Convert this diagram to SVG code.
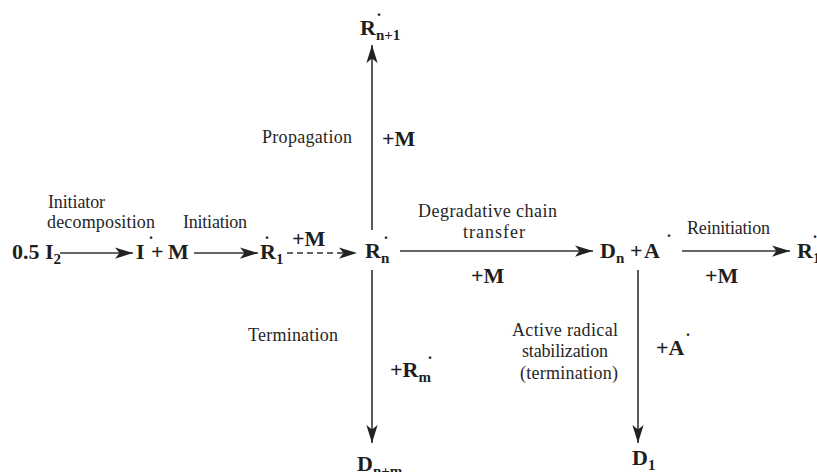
<svg xmlns="http://www.w3.org/2000/svg" width="817" height="472" viewBox="0 0 817 472">
<style>
  .sym { font-family: "Liberation Serif", "Times New Roman", Times, serif; font-size: 22px; font-weight: bold; fill: #1e1e1e; }
  .sub { font-size: 15px; }
  .dot { font-size: 16px; }
  .lbl { font-family: "Liberation Serif", "Times New Roman", Times, serif; font-size: 18px; fill: #262626; }
  .ln { stroke: #333; stroke-width: 1.6; fill: none; }
  .dash { stroke-dasharray: 6 4; }
</style>
<defs>
  <marker id="ah" markerUnits="userSpaceOnUse" markerWidth="18" markerHeight="12" viewBox="0 0 16 10" refX="16" refY="5" orient="auto">
    <path d="M0,0 L16,5 L0,10 L4,5 z" fill="#222"/>
  </marker>
</defs>
<rect width="817" height="472" fill="#fff"/>

<g id="connectors">
  <line class="ln" x1="60" y1="253" x2="133" y2="253" marker-end="url(#ah)"/>
  <line class="ln" x1="194" y1="253" x2="258" y2="253" marker-end="url(#ah)"/>
  <line class="ln dash" x1="287" y1="253" x2="357" y2="253" marker-end="url(#ah)"/>
  <line class="ln" x1="372" y1="230" x2="372" y2="45" marker-end="url(#ah)"/>
  <line class="ln" x1="372" y1="270" x2="372" y2="443" marker-end="url(#ah)"/>
  <line class="ln" x1="400" y1="251" x2="593" y2="251" marker-end="url(#ah)"/>
  <line class="ln" x1="638" y1="270" x2="638" y2="443" marker-end="url(#ah)"/>
  <line class="ln" x1="682" y1="251" x2="790" y2="251" marker-end="url(#ah)"/>
</g>

<g id="I2">
  <text class="sym" x="12" y="259">0.5 I<tspan class="sub" dy="5">2</tspan></text>
</g>
<g id="IM">
  <text class="sym" x="136" y="259">I<tspan class="dot" x="149" y="239">.</tspan><tspan x="151" y="259">+</tspan><tspan x="168" y="259">M</tspan></text>
</g>
<g id="R1">
  <text class="sym" x="260" y="259">R<tspan class="sub" dy="5">1</tspan><tspan class="dot" x="265" y="239">.</tspan></text>
  <text class="sym" x="292" y="246">+M</text>
</g>
<g id="Rn">
  <text class="sym" x="365" y="258">R<tspan class="sub" dy="5">n</tspan><tspan class="dot" x="384" y="239">.</tspan></text>
</g>
<g id="Rn1">
  <text class="sym" x="360" y="35">R<tspan class="sub" dy="5">n+1</tspan><tspan class="dot" x="377" y="16">.</tspan></text>
</g>
<g id="Dnm">
  <text class="sym" x="357" y="471">D<tspan class="sub" dy="5">n+m</tspan></text>
</g>
<g id="DnA">
  <text class="sym" x="600" y="258">D<tspan class="sub" dy="5">n</tspan><tspan x="630" y="258">+</tspan><tspan x="644" y="258">A</tspan><tspan class="dot" x="667" y="237">.</tspan></text>
</g>
<g id="Rright">
  <text class="sym" x="797" y="258">R<tspan class="sub" dy="5">1</tspan><tspan class="dot" x="813" y="238">.</tspan></text>
</g>
<g id="D1">
  <text class="sym" x="632" y="465">D<tspan class="sub" dy="5">1</tspan></text>
</g>

<g id="labels">
  <text class="lbl" x="48" y="208" textLength="57">Initiator</text>
  <text class="lbl" x="47" y="228" textLength="108">decomposition</text>
  <text class="lbl" x="183" y="228" textLength="64">Initiation</text>
  <text class="lbl" x="262" y="143" textLength="90">Propagation</text>
  <text class="sym" x="382" y="146">+M</text>
  <text class="lbl" x="248" y="341" textLength="90">Termination</text>
  <text class="sym" x="390" y="377">+R<tspan class="sub" dy="5">m</tspan><tspan class="dot" x="428" y="359">.</tspan></text>
  <text class="lbl" x="418" y="217" textLength="139">Degradative chain</text>
  <text class="lbl" x="463" y="238" textLength="62">transfer</text>
  <text class="sym" x="471" y="283">+M</text>
  <text class="lbl" x="687" y="234" textLength="83">Reinitiation</text>
  <text class="sym" x="705" y="283">+M</text>
  <text class="lbl" x="512" y="336" textLength="106">Active radical</text>
  <text class="lbl" x="522" y="357" textLength="86">stabilization</text>
  <text class="lbl" x="520" y="379" textLength="98">(termination)</text>
  <text class="sym" x="656" y="355">+A<tspan class="dot" x="686" y="336">.</tspan></text>
</g>
</svg>
